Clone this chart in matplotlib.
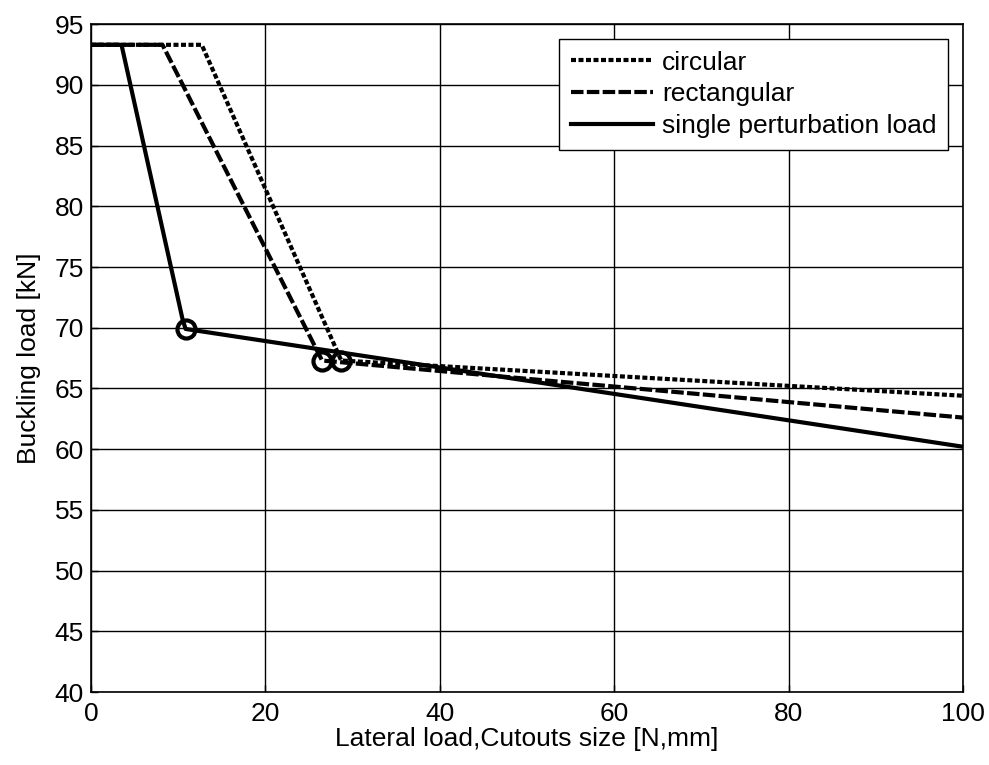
import matplotlib
matplotlib.use("Agg")
import matplotlib.pyplot as plt

plt.rcParams['font.family'] = ['Liberation Sans', 'DejaVu Sans']

# circular cutout
circ_x = [0, 12.7, 28.7, 100]
circ_y = [93.3, 93.3, 67.3, 64.4]
circ_pt = (28.7, 67.3)

# rectangular cutout
rect_x = [0, 8.2, 26.5, 100]
rect_y = [93.3, 93.3, 67.3, 62.6]
rect_pt = (26.5, 67.3)

# single perturbation load
spl_x = [0, 3.5, 10.5, 10.85, 100]
spl_y = [93.3, 93.3, 70.7, 69.9, 60.2]
spl_pt = (10.85, 69.9)

fs = 19

fig = plt.figure(figsize=(9.89, 7.65), dpi=100)
ax = fig.add_axes([0.092, 0.0954, 0.8817, 0.873])

lw = 3.0
ax.plot(circ_x, circ_y, color='k', lw=lw, linestyle=(0, (1.2, 0.6)), label='circular')
ax.plot(rect_x, rect_y, color='k', lw=lw, linestyle=(0, (3.0, 0.8)), label='rectangular')
ax.plot(spl_x, spl_y, color='k', lw=lw, linestyle='-', label='single perturbation load')

for px, py in [circ_pt, rect_pt, spl_pt]:
    ax.plot(px, py, 'o', mfc='none', mec='k', ms=13, mew=3)

ax.set_xlim(0, 100)
ax.set_ylim(40, 95)
ax.set_xticks(range(0, 101, 20))
ax.set_yticks(range(40, 96, 5))
ax.grid(True, color='k', lw=1.0, linestyle='-')
ax.tick_params(axis='x', direction='in', length=5, labelsize=fs, width=1, pad=7)
ax.tick_params(axis='y', direction='in', length=5, labelsize=fs, width=1, pad=5)
for s in ax.spines.values():
    s.set_linewidth(1.2)

ax.set_xlabel('Lateral load,Cutouts size [N,mm]', fontsize=fs, labelpad=1)
ax.set_ylabel('Buckling load [kN]', fontsize=fs, labelpad=10)

leg = ax.legend(loc='upper right', fontsize=fs, handlelength=3.1, handletextpad=0.35,
                borderaxespad=0.55, borderpad=0.45, labelspacing=0.3, fancybox=False,
                framealpha=1, edgecolor='k')
leg.get_frame().set_linewidth(1.0)

fig.savefig('out.png', dpi=100)
